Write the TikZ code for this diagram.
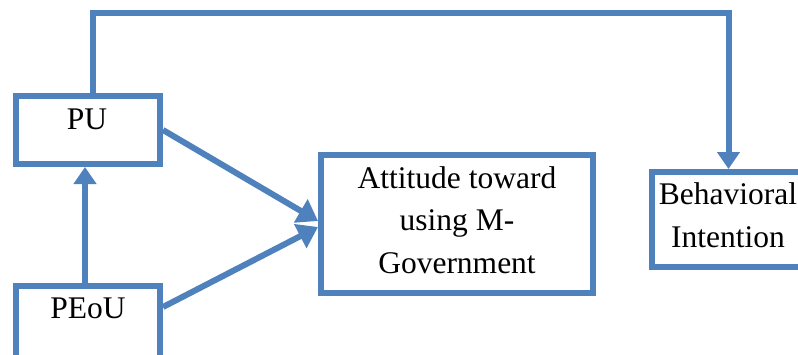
\documentclass[tikz,border=0pt]{standalone}
\usepackage{fontspec}
\setmainfont{Liberation Serif}
\usetikzlibrary{arrows.meta,calc}
\definecolor{frameblue}{HTML}{4F81BD}
\begin{document}
\begin{tikzpicture}[x=1pt,y=-1pt,
  boxframe/.style={draw=frameblue,line width=6pt,inner sep=0pt},
  label/.style={anchor=base,align=center,inner sep=0pt,
    font=\fontsize{31.5}{42.5}\selectfont},
  link/.style={draw=frameblue,line width=6pt,line join=miter,
    -{Triangle[length=17pt,width=22pt]}},
  biglink/.style={link,-{Triangle[length=20pt,width=26pt]}}]
  \useasboundingbox (0,0) rectangle (798,354);
  \fill[white] (0,0) rectangle (798,354);

  % boxes
  \node[boxframe,minimum width=144pt,minimum height=68pt] (PU) at (88,130) {};
  \node[boxframe,minimum width=144pt,minimum height=76pt] (PEoU) at (88,324) {};
  \node[boxframe,minimum width=272pt,minimum height=138pt] (Att) at (457,224) {};
  \node[boxframe,minimum width=153pt,minimum height=95pt] (Beh) at (728.5,219.5) {};

  % captions (base anchor sits on the last line)
  \node[label] (PUt) at (87,129) {PU};
  \node[label] (PEoUt) at (88,318) {PEoU};
  \node[label] (Attt) at (457,273) {Attitude toward\\using M-\\Government};
  \node[label] (Beht) at (728,247) {Behavioral\\Intention};

  % connectors
  \coordinate (top) at (400,12.5);
  \draw[link] ([xshift=5pt]PU.north) |- (top) -| (Beh.north);
  \draw[link] ([xshift=-3pt]PEoU.north) -- ([xshift=-3pt]PU.south);
  \draw[biglink] (PU.east) -- ($(Att.west)+(0,-3)$);
  \draw[biglink] ($(PEoU.north east)+(0,24)$) -- ($(Att.west)+(0,3)$);
\end{tikzpicture}
\end{document}
